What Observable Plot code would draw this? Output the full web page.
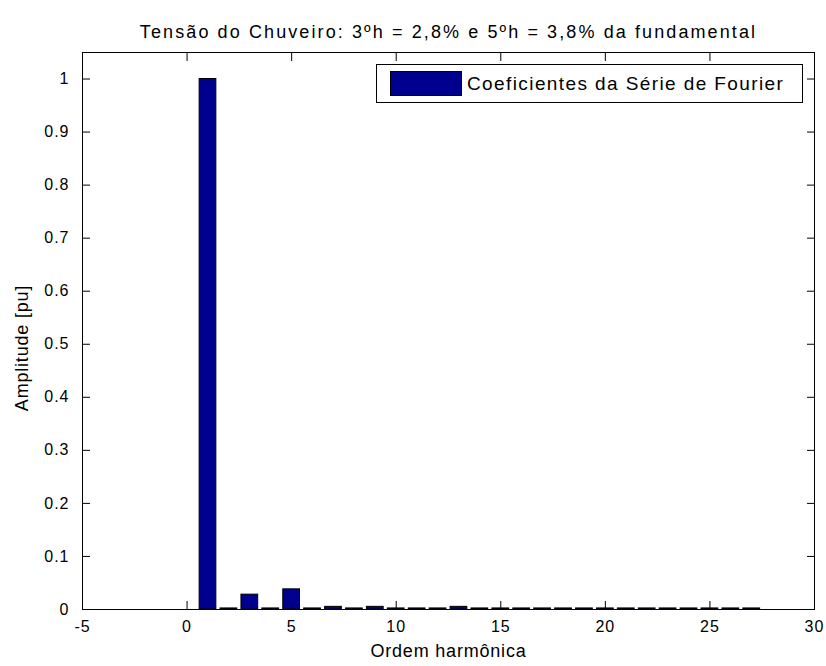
<!DOCTYPE html>
<html><head><meta charset="utf-8">
<script src="https://cdn.jsdelivr.net/npm/d3@7"></script>
<script src="https://cdn.jsdelivr.net/npm/@observablehq/plot@0.6"></script>
<style>
body{margin:0;background:#fff;}
#wrap{position:relative;width:826px;height:666px;font-family:"Liberation Sans",Arial,sans-serif;}
#wrap svg text{letter-spacing:1px;}
#wrap svg .ttl text{letter-spacing:2.1px;}
#wrap svg .lbl text{letter-spacing:0.8px;}
#legend{position:absolute;left:376px;top:64px;width:427px;height:39px;border:1px solid #000;background:#fff;box-sizing:border-box;}
#legend .sw{position:absolute;left:13px;top:6px;width:72px;height:25px;background:#00008f;border:1px solid #000;box-sizing:border-box;}
#legend .tx{position:absolute;left:90px;top:0;line-height:37px;font-size:19px;letter-spacing:1.4px;color:#000;white-space:nowrap;}
</style>
</head><body>
<div id="wrap"><div id="legend"><div class="sw"></div><div class="tx" id="legtext"></div></div></div>
<script>
const titleText = "Tensão do Chuveiro: 3ºh = 2,8% e 5ºh = 3,8% da fundamental";
const xLabel = "Ordem harmônica";
const yLabel = "Amplitude [pu]";
const legendLabel = "Coeficientes da Série de Fourier";
const harmonics = [1,2,3,4,5,6,7,8,9,10,11,12,13,14,15,16,17,18,19,20,21,22,23,24,25,26,27];
const amplitudes = [1.0,0.002,0.028,0.002,0.038,0.002,0.005,0.002,0.005,0.002,0.002,0.002,0.005,0.002,0.002,0.002,0.002,0.002,0.002,0.002,0.002,0.002,0.002,0.002,0.002,0.002,0.002];
const xTicks = [-5,0,5,10,15,20,25,30];
const yTicks = [0,0.1,0.2,0.3,0.4,0.5,0.6,0.7,0.8,0.9,1];

const data = harmonics.map((h,i)=>({h, a: amplitudes[i]}));
const fmt = d => String(+d.toFixed(1));
const none = () => "";
const font = '"Liberation Sans",Arial,sans-serif';

const chart = Plot.plot({
  width: 826, height: 666,
  marginLeft: 82, marginRight: 12, marginTop: 52, marginBottom: 57,
  style: {fontFamily: font, fontSize: "16px", color: "#000", background: "#fff"},
  x: {domain: [-5, 30]},
  y: {domain: [0, 1.05]},
  marks: [
    Plot.rectY(data, {x1: d => d.h - 0.4, x2: d => d.h + 0.4, y1: 0, y2: "a", fill: "#00008f", stroke: "#000", strokeWidth: 1}),
    Plot.frame({stroke: "#000"}),
    // inward ticks on all four sides
    Plot.axisX({anchor: "bottom", ticks: xTicks, tickSize: 8, dy: -8, tickFormat: none, label: null}),
    Plot.axisX({anchor: "top", ticks: xTicks, tickSize: 8, dy: 8, tickFormat: none, label: null}),
    Plot.axisY({anchor: "left", ticks: yTicks, tickSize: 8, dx: 8, tickFormat: none, label: null}),
    Plot.axisY({anchor: "right", ticks: yTicks, tickSize: 8, dx: -8, tickFormat: none, label: null}),
    // tick labels
    Plot.axisX({anchor: "bottom", ticks: xTicks, tickSize: 0, tickPadding: 11, tickFormat: fmt, label: null, fontSize: 16}),
    Plot.axisY({anchor: "left", ticks: yTicks, tickSize: 0, tickPadding: 13, tickFormat: fmt, label: null, fontSize: 16}),
    Plot.text([titleText], {frameAnchor: "top", dy: -27, fontSize: 18, className: "ttl"}),
    Plot.text([xLabel], {frameAnchor: "bottom", dy: 47, fontSize: 18, className: "lbl"}),
    Plot.text([yLabel], {frameAnchor: "left", textAnchor: "middle", rotate: -90, dx: -60, dy: 17, fontSize: 18, className: "lbl"})
  ]
});
document.getElementById("wrap").prepend(chart);
document.getElementById("legtext").textContent = legendLabel;
</script>
</body></html>
